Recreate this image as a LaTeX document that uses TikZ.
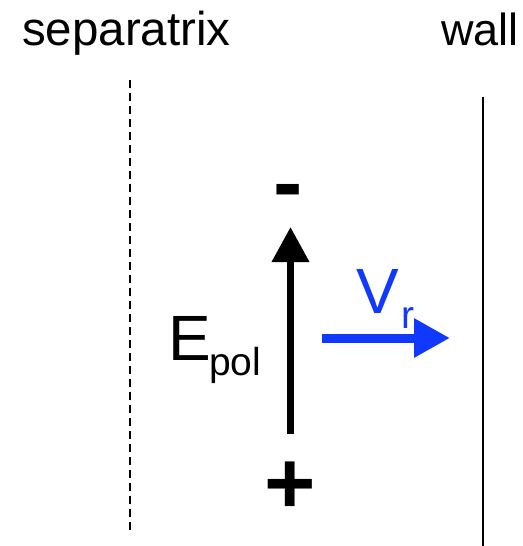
\documentclass[tikz,border=0pt]{standalone}
\usepackage{fontspec}
\setmainfont{Liberation Sans}
\usetikzlibrary{arrows.meta}
\definecolor{vblue}{RGB}{16,56,255}
\tikzset{
  lbl/.style={inner sep=0pt, anchor=base west},
  big/.style={font=\fontsize{45}{45}\selectfont},
  sym/.style={font=\fontsize{64}{64}\selectfont},
  sub/.style={font=\fontsize{39}{39}\selectfont},
  pm/.style={inner sep=0pt, anchor=base, font=\fontsize{88}{88}\selectfont\bfseries},
  efield/.style={line width=7pt, -{Triangle[length=35pt,width=36pt]}},
  vel/.style={vblue, line width=9pt, -{Triangle[length=36pt,width=37pt]}},
}
\begin{document}
\begin{tikzpicture}[x=1pt,y=1pt]
\useasboundingbox (0,0) rectangle (522,-546);
% labels
\node[lbl,font=\fontsize{47.5}{47.5}\selectfont] (sep) at (22,-45) {separatrix};
\node[lbl,big] (wall) at (441,-45) {wall};
% boundary lines
\coordinate (st) at (130,-80);
\coordinate (sb) at (130,-530);
\draw[line width=1.5pt, dash pattern=on 8pt off 5pt] (st) -- (sb);
\coordinate (wt) at (483,-97);
\coordinate (wb) at (483,-546);
\draw[line width=2pt] (wt) -- (wb);
% electric field arrow
\coordinate (eb) at (290.5,-434);
\coordinate (et) at (290.5,-227);
\draw[efield] (eb) -- (et);
\node[pm] (minus) at (288,-212) {-};
\node[pm] (plus) at (290,-513) {+};
\node[lbl,sym] (E) at (168,-360) {E};
\node[lbl,sub] (pol) at (209,-375) {pol};
% velocity arrow
\coordinate (vl) at (322,-338);
\coordinate (vr) at (450,-338);
\draw[vel] (vl) -- (vr);
\node[lbl,sym,text=vblue] (V) at (356,-313) {V};
\node[lbl,sub,text=vblue] (r) at (401,-328) {r};
\end{tikzpicture}
\end{document}
